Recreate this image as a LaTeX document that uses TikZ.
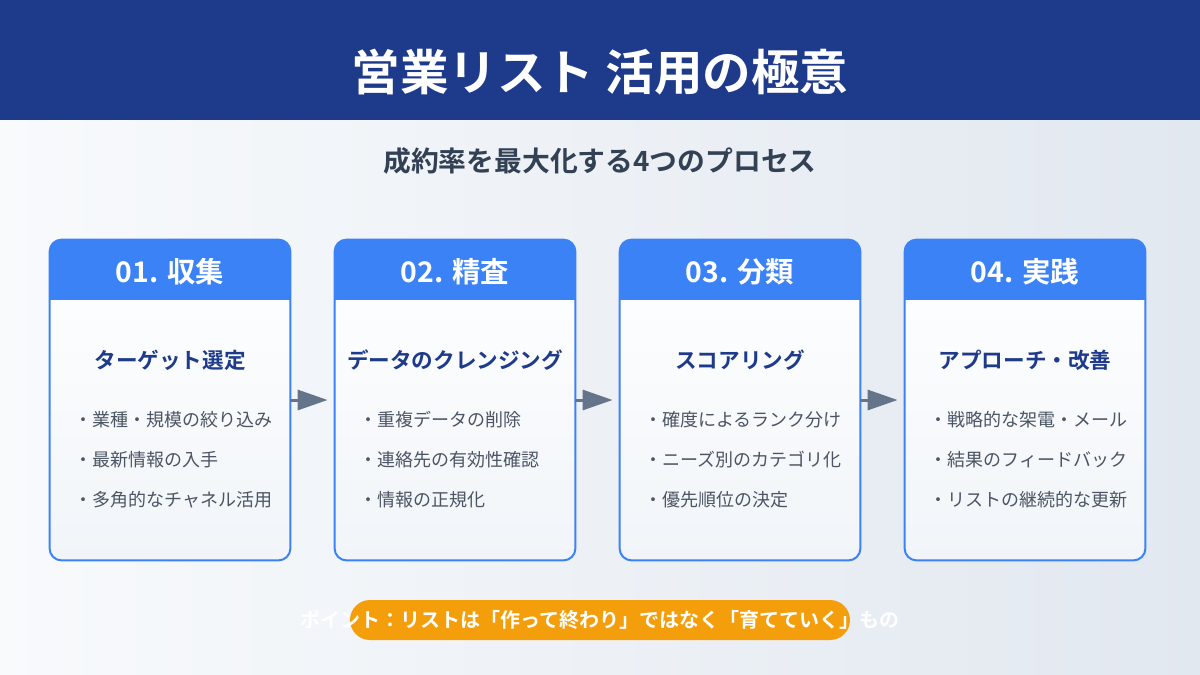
\documentclass[tikz,border=0pt]{standalone}
\usepackage{fontspec}
\setmainfont{Noto Sans CJK JP}[BoldFont={Noto Sans CJK JP Bold}]
\usepackage{tikz}
\usetikzlibrary{positioning, arrows.meta}
\definecolor{HdNavy}{RGB}{30,58,138}
\definecolor{CardBlue}{RGB}{59,130,246}
\definecolor{SubGray}{RGB}{51,65,85}
\definecolor{TxtGray}{RGB}{75,85,99}
\definecolor{ArrGray}{RGB}{100,116,139}
\definecolor{PillOrange}{RGB}{245,158,11}
\definecolor{BgLight}{RGB}{248,250,252}
\definecolor{BgDark}{RGB}{226,232,240}
\definecolor{CardLow}{RGB}{241,245,249}

\begin{document}
\begin{tikzpicture}[x=0.5pt, y=-0.5pt,
    card/.style={rectangle, rounded corners=6pt, minimum width=120pt,
                 minimum height=160pt, inner sep=0pt, top color=white,
                 bottom color=CardLow},
    headtxt/.style={font=\fontsize{14.2pt}{17pt}\selectfont\bfseries, white},
    subtxt/.style={font=\fontsize{10.8pt}{13pt}\selectfont\bfseries, HdNavy},
    item/.style={font=\fontsize{9pt}{11pt}\selectfont, TxtGray, anchor=west, inner sep=0pt},
    arr/.style={-{Triangle[length=15pt, width=10pt]}, draw=ArrGray, line width=1.5pt,
                shorten >=3.5pt}
  ]
  \useasboundingbox (0,0) rectangle (1200,675);
  \shade[left color=BgLight, right color=BgDark] (0,0) rectangle (1200,675);
  \fill[HdNavy] (0,0) rectangle (1200,120);

  \node[font=\fontsize{24.3pt}{29pt}\selectfont\bfseries, white] (title) at (600,72)
        {営業リスト 活用の極意};
  \node[font=\fontsize{13.9pt}{16pt}\selectfont\bfseries, SubGray] (subtitle) at (600,161)
        {成約率を最大化する4つのプロセス};

  % process cards
  \foreach \i/\cx/\head/\sub/\ba/\bb/\bc in {
      1/170/01. 収集/ターゲット選定/業種・規模の絞り込み/最新情報の入手/多角的なチャネル活用,
      2/455/02. 精査/データのクレンジング/重複データの削除/連絡先の有効性確認/情報の正規化,
      3/740/03. 分類/スコアリング/確度によるランク分け/ニーズ別のカテゴリ化/優先順位の決定,
      4/1025/04. 実践/アプローチ・改善/戦略的な架電・メール/結果のフィードバック/リストの継続的な更新} {
    \node[card] (card\i) at (\cx,400) {};
    \begin{scope}
      \clip[rounded corners=6pt] (card\i.north west) rectangle (card\i.south east);
      \fill[CardBlue] (card\i.north west) rectangle ++(240,60);
    \end{scope}
    \draw[CardBlue, line width=1pt, rounded corners=6pt]
         (card\i.north west) rectangle (card\i.south east);
    \node[headtxt] (head\i) at (\cx,272) {\head};
    \node[subtxt] (sub\i) at (\cx,360) {\sub};
    \node[item] (ia\i) at (\cx-96,420) {・\ba};
    \node[item] (ib\i) at (\cx-96,460) {・\bb};
    \node[item] (ic\i) at (\cx-96,500) {・\bc};
  }

  \foreach \a/\b in {1/2, 2/3, 3/4} {
    \draw[arr] (card\a) -- (card\b);
  }

  % key point
  \node[rectangle, rounded corners=10pt, fill=PillOrange, minimum width=250pt,
        minimum height=20pt] (pill) at (600,620) {};
  \node[font=\fontsize{10pt}{12pt}\selectfont\bfseries, white] (point) at (600,620)
        {ポイント：リストは「作って終わり」ではなく「育てていく」もの};
\end{tikzpicture}
\end{document}
